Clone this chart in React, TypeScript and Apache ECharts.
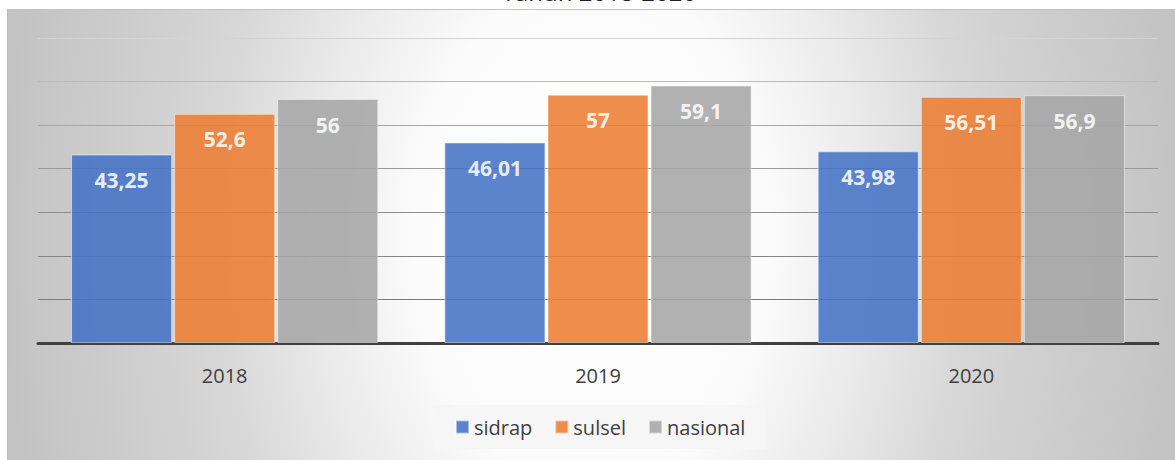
import React, { useEffect, useRef } from "react";
import * as echarts from "echarts";

const categories = ["2018", "2019", "2020"];
const sidrap = [43.25, 46.01, 43.98];
const sulsel = [52.6, 57, 56.51];
const nasional = [56, 59.1, 56.9];
const seriesNames = ["sidrap", "sulsel", "nasional"];
const titleText = "Tahun 2018-2020";

const FONT = "'Open Sans', 'Noto Sans', sans-serif";

export default function App() {
  const ref = useRef<HTMLDivElement>(null);
  useEffect(() => {
    document.body.style.margin = "0";
    const chart = echarts.init(ref.current!, null, { renderer: "svg" });
    const W = 1175;
    const H = 460;
    const panelX = 7;
    const panelY = 9;
    const panelW = W - panelX;
    const centerY = 235;
    const tallH = 1660;
    const label = {
      show: true,
      position: "insideTop",
      distance: 13,
      color: "#ffffff",
      fontFamily: FONT,
      fontWeight: "bold",
      fontSize: 21,
      lineHeight: 25,
      formatter: (p: any) => String(p.value).replace(".", ","),
    };
    const mk = (name: string, data: number[], color: string) => ({
      name,
      type: "bar",
      data,
      barGap: "2%",
      barCategoryGap: "17.7%",
      label,
      itemStyle: {
        color,
        opacity: 0.87,
        borderColor: "rgba(255,255,255,0.55)",
        borderWidth: 1,
      },
    });
    chart.setOption({
      animation: false,
      backgroundColor: "#ffffff",
      graphic: [
        {
          type: "rect",
          z: -10,
          silent: true,
          shape: { x: panelX, y: centerY - tallH / 2, width: panelW, height: tallH },
          style: {
            fill: {
              type: "radial",
              x: 0.5,
              y: 0.5,
              r: 0.51,
              colorStops: [
                { offset: 0, color: "#ffffff" },
                { offset: 0.3, color: "#fbfbfb" },
                { offset: 0.48, color: "#e9e9e9" },
                { offset: 0.64, color: "#d7d7d7" },
                { offset: 0.81, color: "#cdcdcd" },
                { offset: 1, color: "#c3c3c3" },
              ],
            },
          },
        },
        {
          type: "rect",
          z: -9,
          silent: true,
          shape: { x: 0, y: 0, width: W, height: panelY },
          style: { fill: "#ffffff" },
        },
        {
          type: "line",
          z: -8,
          silent: true,
          shape: { x1: panelX, y1: panelY + 0.5, x2: W - 6, y2: panelY + 0.5 },
          style: { stroke: "#c2c2c2", lineWidth: 1 },
        },
        {
          type: "line",
          z: -8,
          silent: true,
          shape: { x1: panelX + 0.5, y1: panelY, x2: panelX + 0.5, y2: H },
          style: { stroke: "#bcbcbc", lineWidth: 1 },
        },
        {
          type: "rect",
          z: -9,
          silent: true,
          shape: { x: 0, y: 0, width: panelX, height: H },
          style: { fill: "#ffffff" },
        },
        {
          type: "polygon",
          z: -8,
          silent: true,
          shape: { points: [[W - 7, panelY], [W, panelY - 7], [W, panelY]] },
          style: { fill: "#ffffff" },
        },
        {
          type: "text",
          z: 10,
          x: 599,
          y: -9,
          style: {
            text: titleText,
            fontFamily: FONT,
            fontSize: 24,
            fill: "#222222",
            align: "center",
            verticalAlign: "middle",
          },
        },
      ],
      legend: {
        data: seriesNames,
        left: 433,
        top: 405,
        padding: [12, 20, 12, 22],
        backgroundColor: "#f6f6f6",
        itemWidth: 13,
        itemHeight: 13,
        itemGap: 22,
        icon: "rect",
        textStyle: { fontFamily: FONT, fontSize: 20, color: "#404040" },
      },
      grid: { left: 38, right: 17, top: 38, bottom: 117 },
      xAxis: {
        type: "category",
        data: categories,
        axisTick: { show: false },
        axisLine: { lineStyle: { color: "#404040", width: 3 } },
        axisLabel: { fontFamily: FONT, fontSize: 20, color: "#404040", margin: 22 },
      },
      yAxis: {
        type: "value",
        min: 0,
        max: 70,
        interval: 10,
        axisLabel: { show: false },
        axisLine: { show: false },
        axisTick: { show: false },
        splitLine: {
          lineStyle: {
            width: 1,
            color: ["#404040", "#7c7c7c", "#858585", "#8e8e8e", "#999999", "#a6a6a6", "#bababa", "#d4d4d4"],
          },
        },
      },
      series: [
        mk(seriesNames[0], sidrap, "#4472C4"),
        mk(seriesNames[1], sulsel, "#ED7D31"),
        mk(seriesNames[2], nasional, "#A5A5A5"),
      ],
    });
    return () => chart.dispose();
  }, []);
  return (
    <div
      ref={ref}
      style={{ position: "absolute", left: 0, top: 0, width: 1175, height: 460 }}
    />
  );
}
